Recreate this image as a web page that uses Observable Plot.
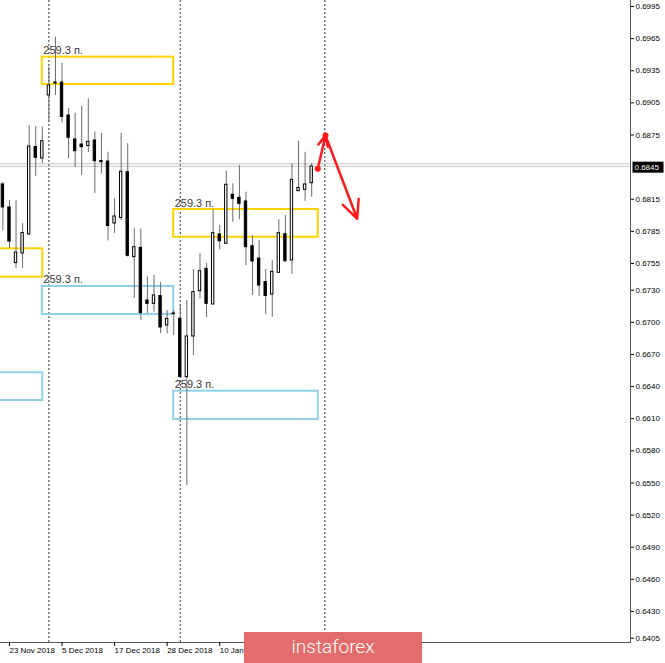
<!DOCTYPE html>
<html>
<head>
<meta charset="utf-8">
<script src="https://cdn.jsdelivr.net/npm/d3@7"></script>
<script src="https://cdn.jsdelivr.net/npm/@observablehq/plot@0.6"></script>
<style>
  body { margin: 0; background: #fff; }
  #wrap { position: relative; width: 665px; height: 663px; overflow: hidden; }
  #banner {
    position: absolute; left: 244px; top: 632px; width: 178px; height: 31px;
    background: #e36c6c; color: #fff; font: 300 19px Roboto, sans-serif;
    text-align: center; line-height: 30px;
  }
</style>
</head>
<body>
<div id="wrap"><div id="chart"></div><div id="banner">instaforex</div></div>
<script>
// daily candles, bar 0 = 22 Nov 2018
const open = [0.68288,0.68073,0.67554,0.67643,0.67821,0.68638,0.68530,0.69119,0.69240,0.69240,0.68932,0.68708,0.68661,0.68647,0.68698,0.68507,0.68502,0.67923,0.67975,0.68402,0.67609,0.67696,0.67204,0.67173,0.67246,0.66971,0.67083,0.67033,0.66488,0.66868,0.67291,0.67500,0.67167,0.67821,0.67734,0.68191,0.68163,0.68129,0.67711,0.67596,0.67377,0.67260,0.67463,0.67823,0.67578,0.68225,0.68238,0.68300];
const high = [0.68306,0.68138,0.68138,0.67923,0.68839,0.68829,0.68825,0.69383,0.69663,0.69418,0.68997,0.68953,0.69016,0.69088,0.68778,0.68764,0.68589,0.68154,0.68767,0.68668,0.67874,0.67872,0.67424,0.67438,0.67372,0.67111,0.67111,0.67167,0.67204,0.67494,0.67640,0.67550,0.68051,0.67905,0.68412,0.68294,0.68465,0.68216,0.67811,0.67764,0.67494,0.67578,0.67958,0.67998,0.68481,0.68692,0.68589,0.68481];
const low = [0.67858,0.67690,0.67503,0.67503,0.67811,0.68362,0.68484,0.68867,0.69119,0.68860,0.68530,0.68446,0.68372,0.68586,0.68203,0.68386,0.67760,0.67830,0.67951,0.67609,0.67223,0.67017,0.67083,0.67095,0.66896,0.66893,0.66877,0.66485,0.65476,0.66690,0.67220,0.67045,0.67162,0.67678,0.67727,0.67935,0.67958,0.67531,0.67251,0.67241,0.67073,0.67048,0.67456,0.67559,0.67447,0.68222,0.68129,0.68169];
const close = [0.68073,0.67755,0.67652,0.67835,0.68642,0.68537,0.68692,0.69212,0.69231,0.68918,0.68724,0.68599,0.68636,0.68686,0.68505,0.68496,0.67900,0.67989,0.68406,0.67622,0.67702,0.67087,0.67173,0.67251,0.66952,0.67033,0.67078,0.66490,0.66868,0.67282,0.67478,0.67173,0.67833,0.67758,0.68285,0.68154,0.68107,0.67702,0.67568,0.67344,0.67246,0.67472,0.67833,0.67571,0.68331,0.68255,0.68288,0.68456];

// zones
const boxStart = [6, -2, 6, -2, 26, 26];
const boxEnd = [26, 6.07, 26, 6.07, 48, 48];
const boxTop = [0.69477, 0.67687, 0.67335, 0.66529, 0.68054, 0.66357];
const boxBottom = [0.69222, 0.67422, 0.67073, 0.66270, 0.67795, 0.66093];
const boxKind = ["sell", "sell", "buy", "buy", "sell", "buy"];
const boxLabel = ["259.3 п.", "", "259.3 п.", "", "259.3 п.", "259.3 п."];

// forecast arrow
const arrowX = [47.93, 49.1, 53.93];
const arrowY = [0.68434, 0.68745, 0.67967];

const separators = [7, 27, 49]; // month starts
const priceLines = [0.68481, 0.68457];
const currentPrice = 0.6845;

const yTicks = [0.6995, 0.6965, 0.6935, 0.6905, 0.6875, 0.6815, 0.6785, 0.6755, 0.6730, 0.6700, 0.6670, 0.6640, 0.6610, 0.6580, 0.6550, 0.6520, 0.6490, 0.6460, 0.6430, 0.6405];
const xTicks = [1, 9, 17, 25, 33];
const xTickLabels = ["23 Nov 2018", "5 Dec 2018", "17 Dec 2018", "28 Dec 2018", "10 Jan 2019"];

const candles = open.map((o, i) => ({i, open: o, high: high[i], low: low[i], close: close[i]}));
const boxes = boxTop.map((t, k) => ({x1: boxStart[k], x2: boxEnd[k], top: t, bottom: boxBottom[k], kind: boxKind[k], label: boxLabel[k]}));
const segs = [0, 1].map((k) => ({x1: arrowX[k], y1: arrowY[k], x2: arrowX[k + 1], y2: arrowY[k + 1]}));

const chart = Plot.plot({
  width: 665,
  height: 663,
  marginTop: 0,
  marginLeft: 0,
  marginRight: 35,
  marginBottom: 21,
  style: {fontFamily: "'Liberation Sans', Arial, sans-serif", fontSize: "8px", color: "#000", background: "#fff"},
  x: {domain: [-0.365, 95.53]},
  y: {domain: [0.6401, 0.70006]},
  marks: [
    Plot.ruleX(separators, {stroke: "#333", strokeDasharray: "2,2"}),
    Plot.ruleY(priceLines, {stroke: "#c4c4c4"}),
    Plot.rect(boxes.filter((d) => d.kind == "sell"), {x1: "x1", x2: "x2", y1: "bottom", y2: "top", fill: "none", stroke: "#ffd200", strokeWidth: 2, clip: true}),
    Plot.rect(boxes.filter((d) => d.kind == "buy"), {x1: "x1", x2: "x2", y1: "bottom", y2: "top", fill: "none", stroke: "#8fd0ea", strokeWidth: 2, clip: true}),
    Plot.ruleX(candles, {x: "i", y1: "low", y2: "high", stroke: "#6b6b6b"}),
    Plot.rect(candles.filter((d) => d.close >= d.open), {x1: (d) => d.i - 0.18, x2: (d) => d.i + 0.18, y1: "open", y2: "close", fill: "#fff", stroke: "#000"}),
    Plot.rect(candles.filter((d) => d.close < d.open), {x1: (d) => d.i - 0.18, x2: (d) => d.i + 0.18, y1: "open", y2: "close", fill: "#000", stroke: "#000"}),
    Plot.text(boxes.filter((d) => d.label), {x: "x1", y: "top", text: "label", textAnchor: "start", lineAnchor: "bottom", dx: 1, dy: -3, fontSize: 11, fill: "#3a3a3a"}),
    Plot.arrow(segs, {x1: "x1", y1: "y1", x2: "x2", y2: "y2", stroke: "#ff1a1a", strokeWidth: 2.5, headLength: 12, headAngle: 50}),
    Plot.dot([0, 1], {x: (k) => arrowX[k], y: (k) => arrowY[k], r: 3, fill: "#ff1a1a"}),
    Plot.frame({anchor: "bottom", stroke: "#555"}),
    Plot.frame({anchor: "right", stroke: "#555"}),
    Plot.axisX({ticks: xTicks, tickFormat: (d) => xTickLabels[xTicks.indexOf(d)], textAnchor: "start", tickSize: 4, tickPadding: 1, label: null}),
    Plot.axisY({anchor: "right", ticks: yTicks, tickFormat: d3.format(".4f"), tickSize: 3, tickPadding: 2, label: null}),
    Plot.text([currentPrice], {y: (d) => d, frameAnchor: "right", textAnchor: "start", dx: 4, text: (d) => d.toFixed(4), fill: "#fff"}),
  ],
});

document.getElementById("chart").append(chart);

// black box behind the current price label
d3.select(chart).selectAll("text").filter(function () {
  return this.textContent === currentPrice.toFixed(4);
}).each(function () {
  const b = this.getBBox();
  const r = document.createElementNS("http://www.w3.org/2000/svg", "rect");
  r.setAttribute("x", b.x - 2);
  r.setAttribute("y", b.y - 1);
  r.setAttribute("width", b.width + 6);
  r.setAttribute("height", b.height + 2);
  r.setAttribute("fill", "#000");
  if (this.getAttribute("transform")) r.setAttribute("transform", this.getAttribute("transform"));
  this.parentNode.insertBefore(r, this);
});
</script>
</body>
</html>
